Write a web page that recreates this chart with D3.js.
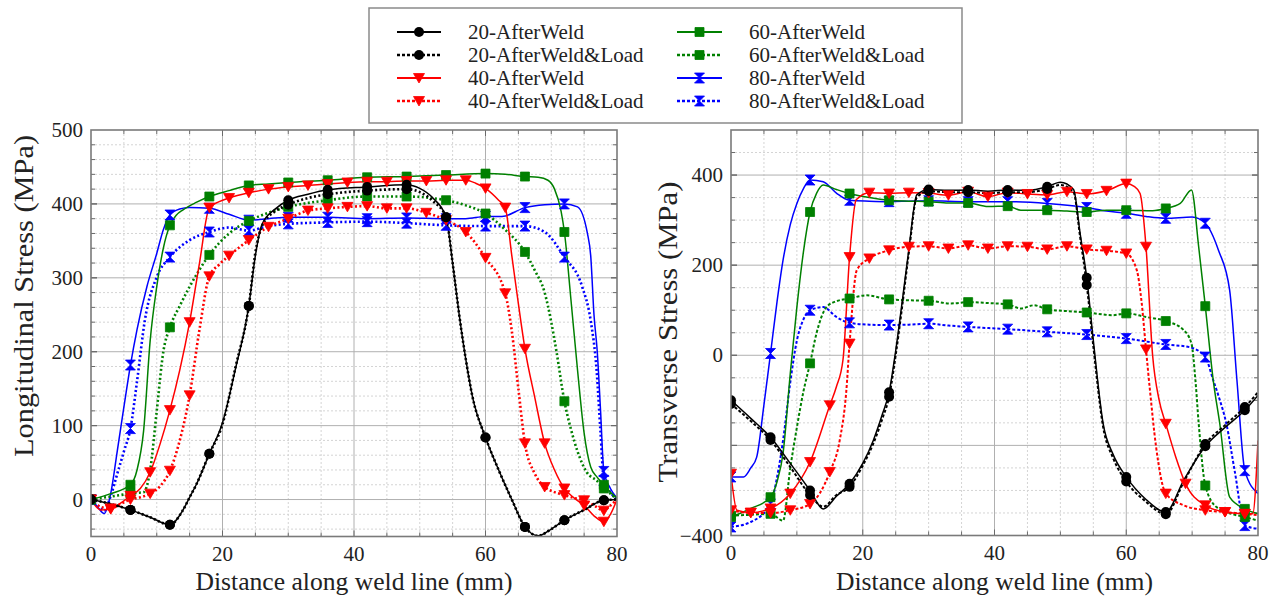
<!DOCTYPE html>
<html lang="en">
<head>
<meta charset="UTF-8">
<title>Weld line stress</title>
<script src="https://d3js.org/d3.v7.min.js"></script>
<style>
  body { margin: 0; background: #fff; }
  text { font-family: "Liberation Serif", "Times New Roman", serif; fill: #222; }
  .grid-major { stroke: #b0b0b0; stroke-width: 1; }
  .grid-minor { stroke: #d4d4d4; stroke-width: 1; stroke-dasharray: 2,2; }
  .frame { fill: none; stroke: #7a7a7a; stroke-width: 1.6; }
  .tick { stroke: #6a6a6a; stroke-width: 1; }
  .legend-box { fill: #fff; stroke: #8a8a8a; stroke-width: 1.5; }
</style>
</head>
<body>
<svg id="chart" width="1278" height="600"></svg>
<script>
    // tick labels
    const xTicks = [0, 20, 40, 60, 80];
    const longTicks = [0, 100, 200, 300, 400, 500];
    const transTicks = [-400, 0, 200, 400];

    const seriesNames = ["20-AfterWeld", "20-AfterWeld&Load", "40-AfterWeld", "40-AfterWeld&Load",
                         "60-AfterWeld", "60-AfterWeld&Load", "80-AfterWeld", "80-AfterWeld&Load"];
    const seriesColors = ["#000000", "#000000", "#ff0000", "#ff0000", "#008000", "#008000", "#0000ff", "#0000ff"];
    const seriesShapes = ["circle", "circle", "tri", "tri", "square", "square", "hourglass", "hourglass"];
    const seriesDotted = [false, true, false, true, false, true, false, true];
    const markerStep = [6, 6, 3, 3, 6, 6, 6, 6];

    // Longitudinal stress [distance mm, MPa]
    const long20 = [[0,0],[3,-6],[6,-14],[9,-24],[12,-34],[14,-14],[15,3],[16,20],[18,62],[20,104],[22,178],[24,262],[25,330],[26,372],[28,393],[30,405],[33,413],[36,419],[42,423],[48,426],[50,421],[52,408],[54,382],[55,320],[56,250],[57,190],[58,140],[60,84],[62,40],[64,0],[66,-37],[68,-49],[70,-40],[72,-28],[75,-14],[78,-1],[80,0]];
    const long20Load = [[0,0],[3,-6],[6,-14],[9,-24],[12,-34],[14,-14],[15,3],[16,20],[18,62],[20,102],[22,180],[24,262],[25,334],[26,370],[28,390],[30,399],[33,408],[36,413],[42,418],[48,420],[50,416],[52,404],[54,382],[55,320],[56,250],[57,190],[58,140],[60,84],[62,40],[64,0],[66,-37],[68,-49],[70,-40],[72,-28],[75,-14],[78,-1],[80,0]];
    const long40 = [[0,0],[1.5,-14],[3,-13],[4.5,-5],[6,5],[7.5,15],[9,37],[10.5,75],[12,121],[13.5,175],[15,240],[16.5,320],[18,395],[19.5,403],[21,408],[24,415],[27,420],[30,423],[33,425],[36,427],[39,429],[42,430],[45,430],[48,431],[51,431],[54,432],[57,432],[58.5,428],[60,421],[62,405],[63,395],[64,330],[65,265],[66,204],[67.5,138],[69,76],[70.5,40],[72,15],[73.5,2],[75,-8],[76.5,-22],[78,-30],[79,-20],[80,0]];
    const long40Load = [[0,0],[1.5,-10],[3,-12],[4.5,-6],[6,0],[7.5,3],[9,8],[10.5,18],[12,39],[13.5,80],[15,141],[16.5,230],[18,302],[19.5,318],[21,330],[24,351],[27,369],[30,380],[33,391],[36,394],[39,396],[42,397],[45,394],[48,394],[51,388],[54,378],[57,362],[60,327],[63,279],[64,228],[65,150],[66,76],[67.5,35],[69,17],[70.5,10],[72,6],[73.5,2],[75,-1],[76.5,-8],[78,-15],[79,-8],[80,0]];
    const long60 = [[0,0],[3,8],[6,20],[7,40],[8,93],[9,215],[10,288],[11,340],[12,371],[13,385],[14,392],[16,402],[18,410],[21,418],[24,425],[27,427],[30,429],[36,432],[42,436],[48,437],[54,439],[60,441],[63,440],[66,437],[68,436],[69.5,432],[70.5,420],[71.5,390],[72,362],[73,270],[74,175],[75,90],[76,44],[77,30],[78,20],[79,10],[80,2]];
    const long60Load = [[0,0],[3,4],[6,8],[7,9],[8,10],[9,40],[10,120],[11,200],[12,233],[13.5,262],[15,288],[18,331],[21,360],[24,377],[27,388],[30,396],[36,405],[42,410],[48,410],[54,405],[57,398],[60,387],[63,365],[66,335],[67.5,310],[69,280],[70,240],[70.8,200],[72,133],[73,95],[74,65],[75.4,37],[77,25],[78,15],[79,8],[80,0]];
    const long80 = [[0,0],[1,-10],[2,-19],[3,8],[4,66],[5,125],[6,182],[7,230],[8.5,288],[10,333],[11,365],[12,385],[13.5,393],[15,395],[18,394],[21,386],[24,378],[27,380],[30,382],[36,382],[42,380],[48,381],[54,380],[57,380],[60,383],[62.5,383],[66,395],[69,399],[72,400],[74,396],[75.5,360],[76,330],[76.5,250],[77,200],[77.5,120],[78,38],[79,15],[80,2]];
    const long80Load = [[0,0],[1,-8],[2,-15],[3,5],[4,35],[5,65],[6,96],[7,160],[8.2,243],[10,301],[12,328],[15,351],[18,362],[21,368],[24,364],[27,370],[30,373],[36,375],[42,376],[48,374],[54,371],[60,370],[66,370],[69,362],[72,328],[74.7,288],[76,242],[76.9,175],[77.5,90],[78,26],[79,10],[80,0]];

    // Transverse stress [distance mm, MPa]
    const trans20 = [[0,-100],[3,-140],[6,-182],[9,-240],[12,-300],[14,-341],[16,-313],[18,-285],[20,-240],[21.6,-189],[23,-130],[24,-82],[25,10],[26,120],[27,235],[28.2,356],[30,368],[33,366],[36,367],[39,364],[42,367],[45,366],[48,374],[50,384],[52,368],[53,270],[54,172],[55,33],[56.5,-152],[58,-220],[60,-270],[63,-320],[66,-348],[68.7,-278],[72,-202],[75,-160],[78,-122],[80,-89]];
    const trans20Load = [[0,-108],[3,-146],[6,-188],[9,-248],[12,-310],[14,-336],[16,-310],[18,-292],[20,-245],[21.6,-196],[23,-140],[24,-92],[25,0],[26,110],[27,228],[28.2,350],[30,364],[33,362],[36,362],[39,360],[42,362],[45,362],[48,369],[50,378],[52,362],[53,262],[54,156],[55,20],[56.5,-160],[58,-228],[60,-280],[63,-325],[66,-353],[68.7,-282],[72,-197],[75,-155],[78,-115],[80,-82]];
    const trans40 = [[0,-263],[0.9,-344],[3,-349],[6,-340],[9,-307],[12,-237],[15,-111],[16,-70],[17,-10],[18,218],[19,345],[21,361],[24,359],[27,361],[30,360],[33,355],[36,363],[39,352],[42,361],[45,358],[48,356],[51,363],[54,358],[57,365],[60,381],[61.2,375],[62.1,359],[63,241],[64,0],[65,-100],[66,-152],[67.5,-225],[69,-285],[72,-333],[75,-348],[78,-352],[79.2,-352],[80,-189]];
    const trans40Load = [[0,-344],[3,-350],[6,-350],[9,-344],[12,-330],[15,-259],[16.5,-189],[17.5,-80],[18,26],[19.1,189],[21,215],[24,233],[27,241],[30,242],[33,237],[36,244],[39,237],[42,242],[45,241],[48,235],[51,242],[54,235],[57,232],[60,226],[61.6,189],[62.3,122],[63,13],[63.6,-78],[64.5,-200],[66,-307],[68.7,-333],[72,-344],[75,-348],[78,-352],[80,-355]];
    const trans60 = [[0,-359],[3,-340],[6,-315],[7,-280],[7.9,-218],[9,-40],[10,107],[11,230],[12,318],[13,360],[14,378],[16,368],[18,359],[21,350],[24,344],[27,342],[30,341],[33,338],[36,338],[39,330],[42,331],[44,322],[48,322],[51,320],[54,318],[57,322],[60,322],[64,321],[66,326],[68.2,337],[69.9,367],[71,240],[72,109],[73.2,-55],[74.2,-152],[75.7,-315],[78,-341],[80,-352]];
    const trans60Load = [[0,-356],[3,-354],[6,-352],[7.9,-367],[9,-250],[10,-160],[11,-80],[12,-18],[13,50],[14.5,107],[16,120],[18,126],[20.6,133],[24,124],[27,122],[30,121],[33.4,115],[36,118],[39,116],[42,113],[44,104],[46,111],[48,102],[51,98],[54,95],[58,89],[60,93],[63,85],[66,76],[68.7,56],[69.9,26],[70.5,-55],[71,-152],[72,-289],[73.7,-337],[76,-352],[78,-359],[80,-367]];
    const trans80 = [[0,-270],[1.9,-270],[3,-250],[3.9,-226],[5,-110],[6,4],[7,120],[7.9,211],[9,290],[10,337],[11,370],[12,389],[14,385],[16,360],[18,344],[21,342],[24,341],[27,342],[30,343],[36,341],[42,341],[48,337],[54,328],[57,320],[60,315],[63,308],[66,304],[70,307],[72,293],[74,233],[75.7,144],[76.8,-55],[78,-256],[80,-307]];
    const trans80Load = [[0,-381],[3,-370],[6,-330],[7,-270],[7.9,-189],[9,-60],[10,33],[11,80],[12,100],[14,107],[16,85],[18,72],[21,68],[24,67],[27,68],[30,70],[33,66],[36,63],[42,58],[48,52],[54,46],[60,37],[66,24],[69.6,18],[72,-4],[73.2,-55],[74,-90],[75.2,-152],[76.5,-260],[78,-378],[80,-385]];

    const longSeries = [long20, long20Load, long40, long40Load, long60, long60Load, long80, long80Load];
    const transSeries = [trans20, trans20Load, trans40, trans40Load, trans60, trans60Load, trans80, trans80Load];

    const svg = d3.select("#chart");

    const shapePaths = {
      square: "M-4.5,-4.5h9v9h-9Z",
      tri: "M-5.5,-4.5L5.5,-4.5L0,5Z",
      hourglass: "M-5,-5H5L-5,5H5Z"
    };

    function marker(g, shape, color, x, y) {
      if (shape === "circle") {
        g.append("circle").attr("cx", x).attr("cy", y).attr("r", 5).attr("fill", color);
      } else {
        g.append("path").attr("d", shapePaths[shape])
          .attr("transform", `translate(${x},${y})`)
          .attr("fill", color).attr("stroke", color).attr("stroke-width", 0.8);
      }
    }

    const panels = [
      { id: "long", left: 91, right: 617, top: 130, bottom: 536.5, yDomain: [-50, 500],
        yLabels: longTicks, yMajor: d3.range(0, 501, 100), yMinor: d3.range(-40, 500, 20),
        title: "Longitudinal Stress (MPa)", titleX: 33, titleY: 296, titleLen: 322,
        data: longSeries, dash: "2,2.4", dashW: 2.6 },
      { id: "trans", left: 731, right: 1258, top: 130, bottom: 535.5, yDomain: [-400, 500],
        yLabels: transTicks, yMajor: d3.range(-400, 401, 200), yMinor: d3.range(-400, 500, 50),
        title: "Transverse Stress (MPa)", titleX: 677, titleY: 332, titleLen: 301,
        data: transSeries, dash: "3,2", dashW: 2 }
    ];

    panels.forEach(p => {
      const x = d3.scaleLinear().domain([0, 80]).range([p.left, p.right]);
      const y = d3.scaleLinear().domain(p.yDomain).range([p.bottom, p.top]);
      const g = svg.append("g");

      g.append("clipPath").attr("id", "clip-" + p.id)
        .append("rect").attr("x", p.left).attr("y", p.top)
        .attr("width", p.right - p.left).attr("height", p.bottom - p.top);

      // grid
      const xMinor = d3.range(5, 80, 5).filter(v => v % 20 !== 0);
      g.selectAll(".xminor").data(xMinor).enter().append("line")
        .attr("class", "grid-minor")
        .attr("x1", d => x(d)).attr("x2", d => x(d)).attr("y1", p.top).attr("y2", p.bottom);
      g.selectAll(".yminor").data(p.yMinor.filter(v => !p.yMajor.includes(v))).enter().append("line")
        .attr("class", "grid-minor")
        .attr("x1", p.left).attr("x2", p.right).attr("y1", d => y(d)).attr("y2", d => y(d));
      g.selectAll(".xmajor").data([20, 40, 60]).enter().append("line")
        .attr("class", "grid-major")
        .attr("x1", d => x(d)).attr("x2", d => x(d)).attr("y1", p.top).attr("y2", p.bottom);
      g.selectAll(".ymajor").data(p.yMajor.filter(v => v > p.yDomain[0] && v < p.yDomain[1])).enter().append("line")
        .attr("class", "grid-major")
        .attr("x1", p.left).attr("x2", p.right).attr("y1", d => y(d)).attr("y2", d => y(d));

      // inside ticks on all sides
      const ticks = g.append("g");
      d3.range(5, 80, 5).forEach(v => {
        const len = v % 20 === 0 ? 6 : 4;
        ticks.append("line").attr("class", "tick").attr("x1", x(v)).attr("x2", x(v))
          .attr("y1", p.bottom).attr("y2", p.bottom - len);
        ticks.append("line").attr("class", "tick").attr("x1", x(v)).attr("x2", x(v))
          .attr("y1", p.top).attr("y2", p.top + len);
      });
      p.yMinor.concat(p.yMajor).forEach(v => {
        if (v <= p.yDomain[0] || v >= p.yDomain[1]) return;
        const len = p.yMajor.includes(v) ? 6 : 4;
        ticks.append("line").attr("class", "tick").attr("x1", p.left).attr("x2", p.left + len)
          .attr("y1", y(v)).attr("y2", y(v));
        ticks.append("line").attr("class", "tick").attr("x1", p.right).attr("x2", p.right - len)
          .attr("y1", y(v)).attr("y2", y(v));
      });

      // series
      const plot = g.append("g").attr("clip-path", `url(#clip-${p.id})`);
      const line = d3.line().x(d => x(d[0])).y(d => y(d[1])).curve(d3.curveMonotoneX);
      const order = [6, 7, 4, 5, 2, 3, 0, 1];
      order.forEach(i => {
        plot.append("path").datum(p.data[i])
          .attr("d", line)
          .attr("fill", "none")
          .attr("stroke", seriesColors[i])
          .attr("stroke-width", seriesDotted[i] ? p.dashW : 1.5)
          .attr("stroke-dasharray", seriesDotted[i] ? p.dash : null);
      });
      order.forEach(i => {
        p.data[i].filter(d => d[0] % markerStep[i] === 0 && d[0] < 80).forEach(d => {
          marker(plot, seriesShapes[i], seriesColors[i], x(d[0]), y(d[1]));
        });
      });

      g.append("rect").attr("class", "frame")
        .attr("x", p.left).attr("y", p.top)
        .attr("width", p.right - p.left).attr("height", p.bottom - p.top);

      // tick labels
      g.selectAll(".xlab").data(xTicks).enter().append("text")
        .attr("x", d => x(d)).attr("y", p.bottom + 24)
        .attr("text-anchor", "middle").attr("font-size", 21)
        .text(d => d);
      g.selectAll(".ylab").data(p.yLabels).enter().append("text")
        .attr("x", p.left - 8).attr("y", d => y(d) + 7)
        .attr("text-anchor", "end").attr("font-size", 21)
        .text(d => d < 0 ? "\u2212" + Math.abs(d) : d);

      // axis titles
      g.append("text")
        .attr("x", (p.left + p.right) / 2).attr("y", 590)
        .attr("text-anchor", "middle").attr("font-size", 25)
        .attr("textLength", 317).attr("lengthAdjust", "spacingAndGlyphs")
        .text("Distance along weld line (mm)");
      g.append("text")
        .attr("transform", `translate(${p.titleX},${p.titleY}) rotate(-90)`)
        .attr("text-anchor", "middle").attr("font-size", 27)
        .attr("textLength", p.titleLen).attr("lengthAdjust", "spacingAndGlyphs")
        .text(p.title);
    });

    // legend
    const legend = svg.append("g");
    legend.append("rect").attr("class", "legend-box")
      .attr("x", 369).attr("y", 8).attr("width", 593).attr("height", 115);
    const legendCols = [{ lx1: 397, lx2: 441, tx: 468 }, { lx1: 677, lx2: 722, tx: 749 }];
    seriesNames.forEach((name, i) => {
      const col = legendCols[Math.floor(i / 4)];
      const cy = 32 + (i % 4) * 23;
      legend.append("line")
        .attr("x1", col.lx1).attr("x2", col.lx2).attr("y1", cy).attr("y2", cy)
        .attr("stroke", seriesColors[i])
        .attr("stroke-width", seriesDotted[i] ? 2.4 : 1.8)
        .attr("stroke-dasharray", seriesDotted[i] ? "3,2" : null);
      marker(legend, seriesShapes[i], seriesColors[i], (col.lx1 + col.lx2) / 2, cy);
      legend.append("text")
        .attr("x", col.tx).attr("y", cy + 7)
        .attr("font-size", 21)
        .text(name);
    });
</script>
</body>
</html>
